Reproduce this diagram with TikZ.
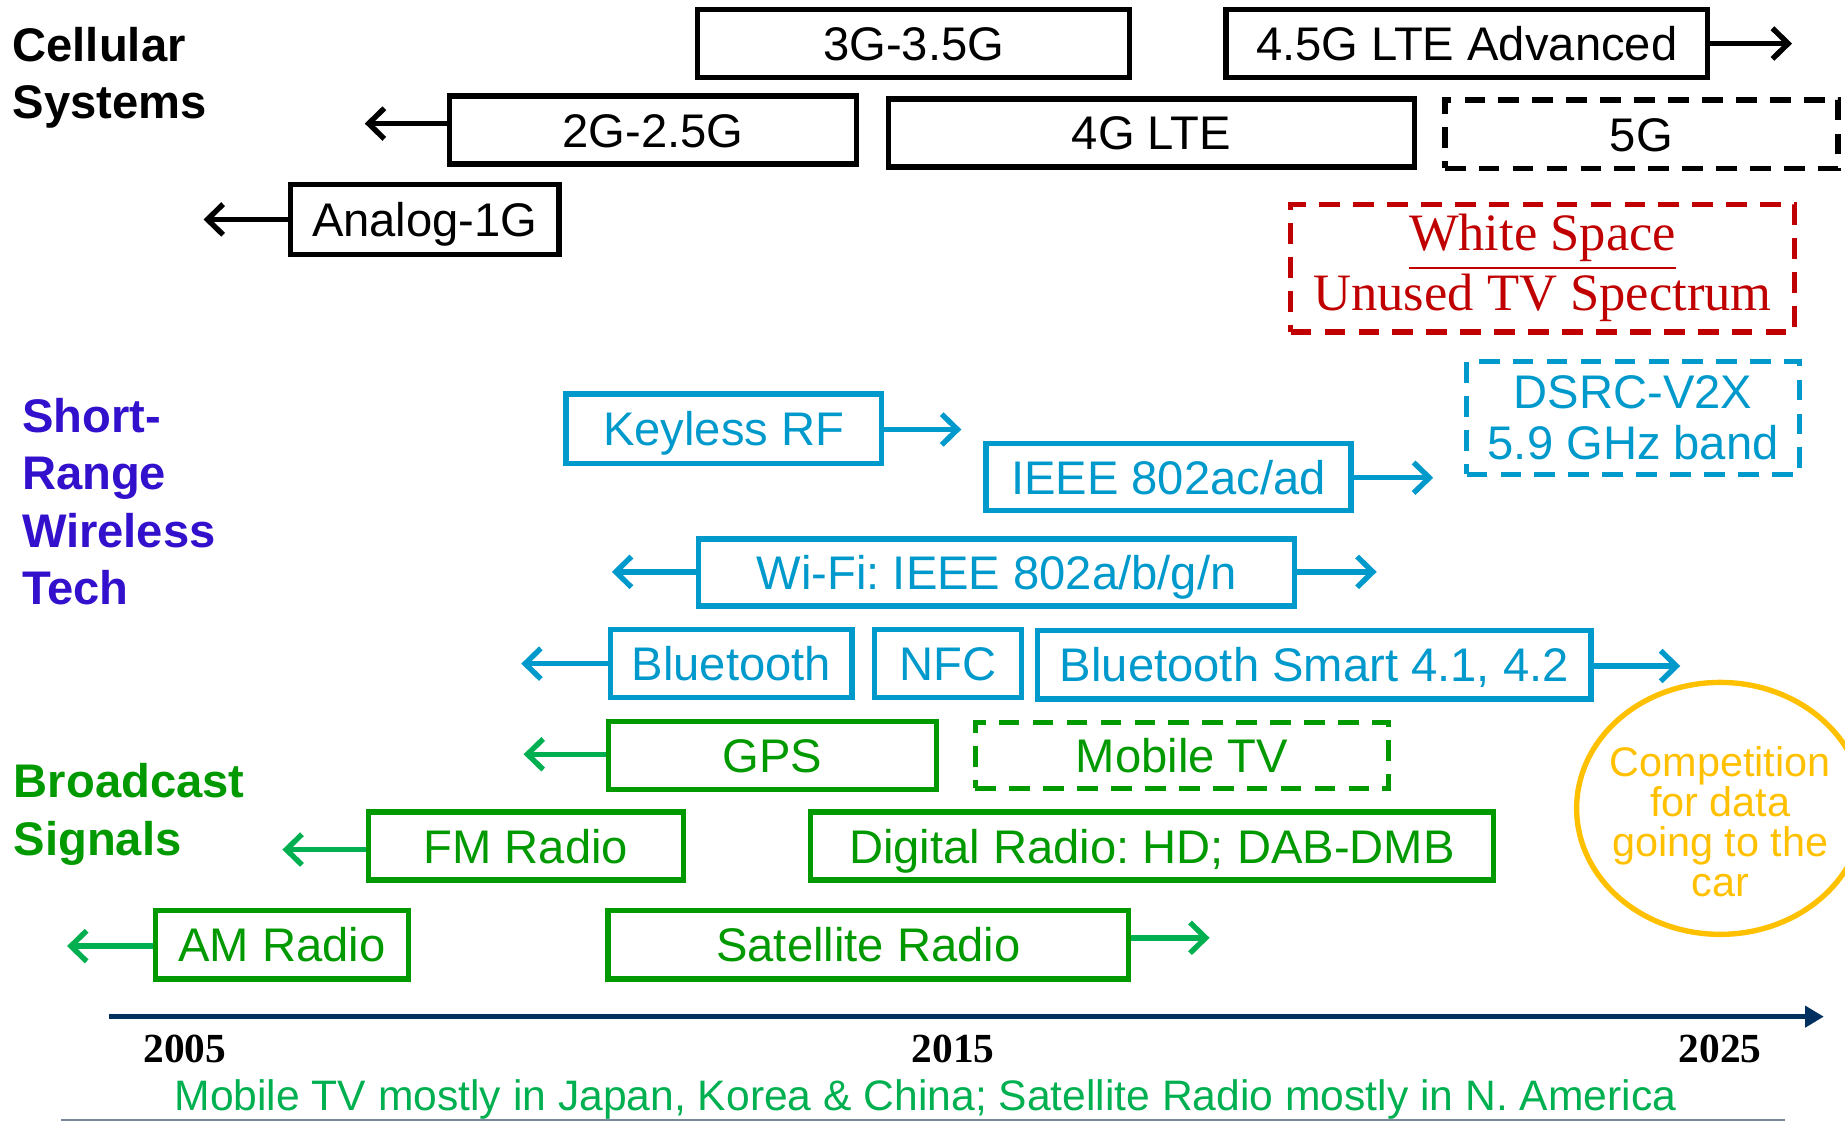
\documentclass[tikz,border=0pt]{standalone}
\usepackage{fontspec}
\setmainfont{Liberation Sans}
\newfontfamily\timesfont{Liberation Serif}
\usetikzlibrary{arrows.meta,shapes.geometric}
\definecolor{srblue}{RGB}{0,153,204}
\definecolor{bcgreen}{RGB}{0,153,0}
\definecolor{argreen}{RGB}{0,176,80}
\definecolor{labpurple}{RGB}{51,17,204}
\definecolor{wsred}{RGB}{192,0,0}
\definecolor{gold}{RGB}{255,192,0}
\definecolor{navy}{RGB}{0,48,96}
\definecolor{rulegray}{RGB}{120,136,152}
\newcommand\boxfont{\fontsize{11.4}{13.7}\selectfont}
\frenchspacing
\tikzset{
  frame/.style={draw, line width=1.3pt, inner sep=0pt, font=\boxfont},
  era/.style={frame, minimum height=0.58cm, text height=8.2pt, text depth=0pt},
  plan/.style={dash pattern=on 5pt off 3.2pt},
  cell/.style={era, draw=black, text=black},
  srw/.style={era, draw=srblue, text=srblue},
  bcast/.style={era, draw=bcgreen, text=bcgreen},
  group/.style={anchor=base west, align=left, inner sep=0pt, font=\fontsize{11.4}{13.9}\selectfont\bfseries},
  tip/.style={line width=1.3pt, -{Straight Barb[length=3.8pt,width=7.4pt]}},
  year/.style={anchor=base, inner sep=0pt, font=\timesfont\fontsize{10}{12}\selectfont\bfseries}
}
\begin{document}
\begin{tikzpicture}[x=0.01cm, y=-0.01cm]
        \useasboundingbox (0,0) rectangle (1568,956);

        \node[group] (cs) at (10,101) {Cellular\\Systems};
        \node[group, text=labpurple] (srt) at (18,514) {Short-\\Range\\Wireless\\Tech};
        \node[group, text=bcgreen] (bs) at (11,727) {Broadcast\\Signals};

        \node[cell, minimum width=3.67cm] (g3) at (776.5,37) {3G-3.5G};
        \node[cell, minimum width=4.09cm] (g45) at (1246.5,37) {4.5G LTE Advanced};
        \node[cell, minimum width=3.46cm] (g2) at (555,110.5) {2G-2.5G};
        \node[cell, minimum width=4.47cm] (g4) at (978.5,113) {4G LTE};
        \node[cell, plan, minimum width=3.34cm] (g5) at (1395,114) {5G};
        \node[cell, minimum width=2.28cm, minimum height=0.59cm] (g1) at (361,186.5) {Analog-1G};
        \node[frame, plan, draw=wsred, text=wsred, align=center, minimum width=4.28cm, minimum height=1.08cm,
              font=\timesfont\fontsize{12.7}{12.8}\selectfont] (ws) at (1311,228) {\underline{White Space}\\Unused TV Spectrum};

        \node[srw, minimum width=2.68cm, minimum height=0.59cm] (key) at (615,364.5) {Keyless RF};
        \node[srw, minimum width=3.10cm, minimum height=0.57cm] (ieee) at (993,405.5) {IEEE 802ac/ad};
        \node[frame, plan, draw=srblue, text=srblue, align=center, minimum width=2.83cm, minimum height=0.96cm,
              font=\fontsize{11.4}{12.2}\selectfont] (dsrc) at (1388,355) {DSRC-V2X\\5.9 GHz band};
        \node[srw, minimum width=5.06cm, minimum height=0.57cm] (wifi) at (847,486.5) {Wi-Fi: IEEE 802a/b/g/n};
        \node[srw, minimum width=2.05cm] (bt) at (621.5,564) {Bluetooth};
        \node[srw, minimum width=1.25cm] (nfc) at (805.5,564) {NFC};
        \node[srw, minimum width=4.70cm] (bts) at (1117,565) {Bluetooth Smart 4.1, 4.2};

        \node[bcast, minimum width=2.79cm] (gps) at (656.5,642) {GPS};
        \node[bcast, plan, minimum width=3.51cm, minimum height=0.56cm] (mtv) at (1004.5,642) {Mobile TV};
        \node[bcast, minimum width=2.68cm] (fm) at (447,719) {FM Radio};
        \node[bcast, minimum width=5.80cm] (dr) at (979,719) {Digital Radio: HD; DAB-DMB};
        \node[bcast, minimum width=2.15cm] (am) at (239.5,803) {AM Radio};
        \node[bcast, minimum width=4.42cm] (sat) at (738,803) {Satellite Radio};

        \node[draw=gold, line width=1.3pt, ellipse, minimum width=2.44cm, minimum height=2.14cm, inner sep=0pt] (cmp) at (1462,687) {};
        \node[anchor=base, align=center, inner sep=0pt, text=gold, font=\fontsize{10}{9.7}\selectfont] (cmpt) at (1462,762)
              {Competition\\for data\\going to the\\car};

        \coordinate (g45e) at (1523,37);   \coordinate (g2e) at (310,105);   \coordinate (g1e) at (173,186.5);
        \coordinate (keye) at (817,365);   \coordinate (ieeee) at (1218,406);
        \coordinate (wifiw) at (520,486);  \coordinate (wifie) at (1170,486);
        \coordinate (btw) at (443,564);    \coordinate (btse) at (1428,566);
        \coordinate (gpsw) at (445,641);   \coordinate (fmw) at (240,722);
        \coordinate (amw) at (57,804);     \coordinate (sate) at (1028,797);

        \draw[tip] (g45.east |- g45e) -- (g45e);
        \draw[tip] (g2.west |- g2e) -- (g2e);
        \draw[tip] (g1.west |- g1e) -- (g1e);
        \draw[tip, srblue] (key.east |- keye) -- (keye);
        \draw[tip, srblue] (ieee.east |- ieeee) -- (ieeee);
        \draw[tip, srblue] (wifi.west |- wifiw) -- (wifiw);
        \draw[tip, srblue] (wifi.east |- wifie) -- (wifie);
        \draw[tip, srblue] (bt.west |- btw) -- (btw);
        \draw[tip, srblue] (bts.east |- btse) -- (btse);
        \draw[tip, argreen] (gps.west |- gpsw) -- (gpsw);
        \draw[tip, argreen] (fm.west |- fmw) -- (fmw);
        \draw[tip, argreen] (am.west |- amw) -- (amw);
        \draw[tip, argreen] (sat.east |- sate) -- (sate);

        \coordinate (t0) at (93,864); \coordinate (t1) at (1550,864);
        \draw[navy, line width=1.2pt, -{Triangle[length=4.5pt,width=5pt]}] (t0) -- (t1);
        \node[year] (y05) at (157,903) {2005};
        \node[year] (y15) at (810,903) {2015};
        \node[year] (y25) at (1462,903) {2025};

        \node[anchor=base, inner sep=0pt, text=argreen, font=\fontsize{10.3}{12}\selectfont] (note) at (786.5,944)
              {Mobile TV mostly in Japan, Korea \& China; Satellite Radio mostly in N. America};
        \coordinate (f0) at (52,952); \coordinate (f1) at (1517,952);
        \draw[rulegray, line width=0.5pt] (f0) -- (f1);
\end{tikzpicture}
\end{document}
